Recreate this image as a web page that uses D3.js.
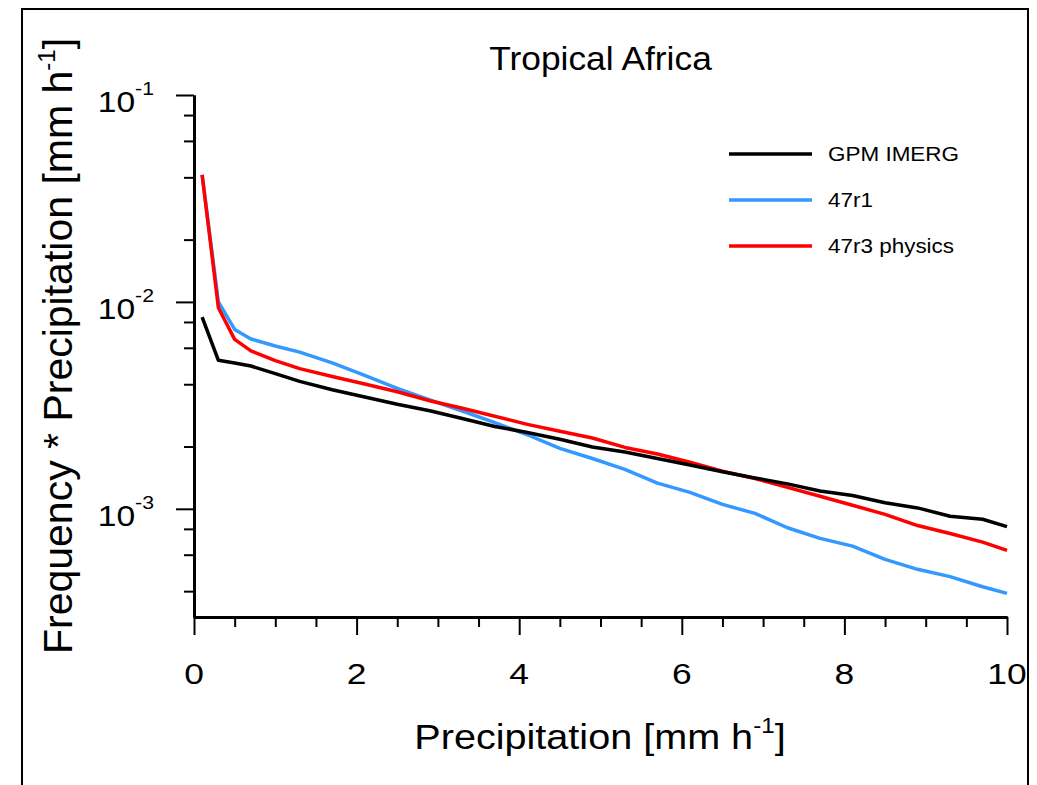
<!DOCTYPE html>
<html>
<head>
<meta charset="utf-8">
<script src="https://cdn.jsdelivr.net/npm/d3@7"></script>
<style>
  body { margin: 0; background: #fff; }
  text { font-family: "Liberation Sans", Helvetica, Arial, sans-serif; fill: #000; }
</style>
</head>
<body>
<div id="chart"></div>
<script>
// precipitation bins (mm/h)
var xValues = [0.1, 0.3, 0.5, 0.7, 1.0, 1.3, 1.7, 2.1, 2.5, 2.9, 3.3, 3.7, 4.1, 4.5,
  4.9, 5.3, 5.7, 6.1, 6.5, 6.9, 7.3, 7.7, 8.1, 8.5, 8.9, 9.3, 9.7, 10];

var gpmImerg = [0.00844, 0.00522, 0.00507, 0.00490, 0.00450, 0.00413, 0.00376, 0.00347,
  0.00320, 0.00298, 0.00273, 0.00250, 0.00234, 0.00217, 0.00199, 0.00188, 0.00175,
  0.00163, 0.00151, 0.00141, 0.00132, 0.00122, 0.00116, 0.00107, 0.00101, 0.00092,
  0.00089, 0.00082];

var r47r1 = [0.0410, 0.0100, 0.00736, 0.00662, 0.00612, 0.00572, 0.00507, 0.00441,
  0.00382, 0.00336, 0.00297, 0.00261, 0.00228, 0.00196, 0.00175, 0.00155, 0.00133,
  0.00120, 0.00105, 0.00095, 0.00081, 0.00072, 0.00066, 0.00057, 0.00051, 0.00047,
  0.00042, 0.00039];

var r47r3 = [0.0412, 0.00937, 0.00659, 0.00580, 0.00520, 0.00476, 0.00436, 0.00401,
  0.00368, 0.00333, 0.00306, 0.00280, 0.00256, 0.00237, 0.00220, 0.00198, 0.00184,
  0.00168, 0.00152, 0.00140, 0.00127, 0.00115, 0.00104, 0.00094, 0.00083, 0.00076,
  0.00069, 0.00063];

var seriesNames = ["GPM IMERG", "47r1", "47r3 physics"];
var seriesColors = ["#000000", "#3399ff", "#ff0000"];

var xMajorTicks = [0, 2, 4, 6, 8, 10];
var xMinorTicks = [0.5, 1, 1.5, 2.5, 3, 3.5, 4.5, 5, 5.5, 6.5, 7, 7.5, 8.5, 9, 9.5];
var yMajorTicks = [1e-1, 1e-2, 1e-3];
var yMajorLabels = ["-1", "-2", "-3"];
var yMinorTicks = [0.08, 0.06, 0.04, 0.02, 0.008, 0.006, 0.004, 0.002, 0.0008, 0.0006, 0.0004];

var W = 1037, H = 785;
var margin = {left: 194, right: 30, top: 95, bottom: 168};

var svg = d3.select("#chart").append("svg")
  .attr("width", W).attr("height", H);

// outer frame
svg.append("rect")
  .attr("x", 22).attr("y", 9)
  .attr("width", 1006).attr("height", 820)
  .attr("fill", "none").attr("stroke", "#000").attr("stroke-width", 2);

var x = d3.scaleLinear().domain([0, 10]).range([margin.left, W - margin.right]);
var y = d3.scaleLog().domain([3e-4, 0.1]).range([H - margin.bottom, margin.top]);

// stretched text helper (the original font runs wide)
function addText(parent, px, py, str, size, sx, anchor) {
  return parent.append("text")
    .attr("transform", "translate(" + px + "," + py + ") scale(" + sx + ",1)")
    .attr("text-anchor", anchor || "start")
    .style("font-size", size + "px")
    .text(str);
}

// data lines
var line = d3.line()
  .x(function(d) { return x(d[0]); })
  .y(function(d) { return y(d[1]); });

var allSeries = [gpmImerg, r47r1, r47r3];
var drawOrder = [1, 2, 0];
drawOrder.forEach(function(k) {
  var pts = xValues.map(function(v, i) { return [v, allSeries[k][i]]; });
  svg.append("path")
    .attr("d", line(pts))
    .attr("fill", "none")
    .attr("stroke", seriesColors[k])
    .attr("stroke-width", 3.5)
    .attr("stroke-linejoin", "round");
});

// axes
function styleAxis(g, w) {
  g.select(".domain").attr("stroke-width", 3);
  g.selectAll(".tick line").attr("stroke-width", w);
}

var xAxisY = y.range()[0];
svg.append("g")
  .attr("transform", "translate(0," + xAxisY + ")")
  .call(d3.axisBottom(x).tickValues(xMinorTicks).tickSize(10).tickSizeOuter(0).tickFormat(""))
  .call(styleAxis, 2);
svg.append("g")
  .attr("transform", "translate(0," + xAxisY + ")")
  .call(d3.axisBottom(x).tickValues(xMajorTicks).tickSize(18).tickSizeOuter(0).tickFormat(""))
  .call(styleAxis, 2);

var yAxisX = x.range()[0];
svg.append("g")
  .attr("transform", "translate(" + yAxisX + ",0)")
  .call(d3.axisLeft(y).tickValues(yMinorTicks).tickSize(10).tickSizeOuter(0).tickFormat(""))
  .call(styleAxis, 2);
svg.append("g")
  .attr("transform", "translate(" + yAxisX + ",0)")
  .call(d3.axisLeft(y).tickValues(yMajorTicks).tickSize(18).tickSizeOuter(0).tickFormat(""))
  .call(styleAxis, 2);

// x tick labels
xMajorTicks.forEach(function(v) {
  addText(svg, x(v), xAxisY + 67, String(v), 30, 1.18, "middle");
});

// y tick labels: 10^n
yMajorTicks.forEach(function(v, i) {
  var t = svg.append("text")
    .attr("transform", "translate(" + (yAxisX - 40) + "," + (y(v) + 17) + ") scale(1.12,1)")
    .attr("text-anchor", "end")
    .style("font-size", "30px");
  t.append("tspan").text("10");
  t.append("tspan").attr("dy", -17).style("font-size", "19px").text(yMajorLabels[i]);
});

// title
addText(svg, (x.range()[0] + x.range()[1]) / 2, 70, "Tropical Africa", 34, 1.04, "middle");

// x axis title
var xt = svg.append("text")
  .attr("transform", "translate(600,749) scale(1.1,1)")
  .attr("text-anchor", "middle")
  .style("font-size", "36px");
xt.append("tspan").text("Precipitation [mm h");
xt.append("tspan").attr("dy", -16).style("font-size", "22px").text("-1");
xt.append("tspan").attr("dy", 16).text("]");

// y axis title
var yt = svg.append("text")
  .attr("transform", "translate(72,346) rotate(-90)")
  .attr("text-anchor", "middle")
  .style("font-size", "41px");
yt.append("tspan").text("Frequency * Precipitation [mm h");
yt.append("tspan").attr("dy", -17).style("font-size", "24px").text("-1");
yt.append("tspan").attr("dy", 17).text("]");

// legend
var legendY = [154, 200, 246];
seriesNames.forEach(function(name, i) {
  svg.append("line")
    .attr("x1", 729).attr("x2", 812)
    .attr("y1", legendY[i]).attr("y2", legendY[i])
    .attr("stroke", seriesColors[i]).attr("stroke-width", 3.5);
  addText(svg, 828, legendY[i] + 7, name, 21, 1.07, "start");
});
</script>
</body>
</html>
